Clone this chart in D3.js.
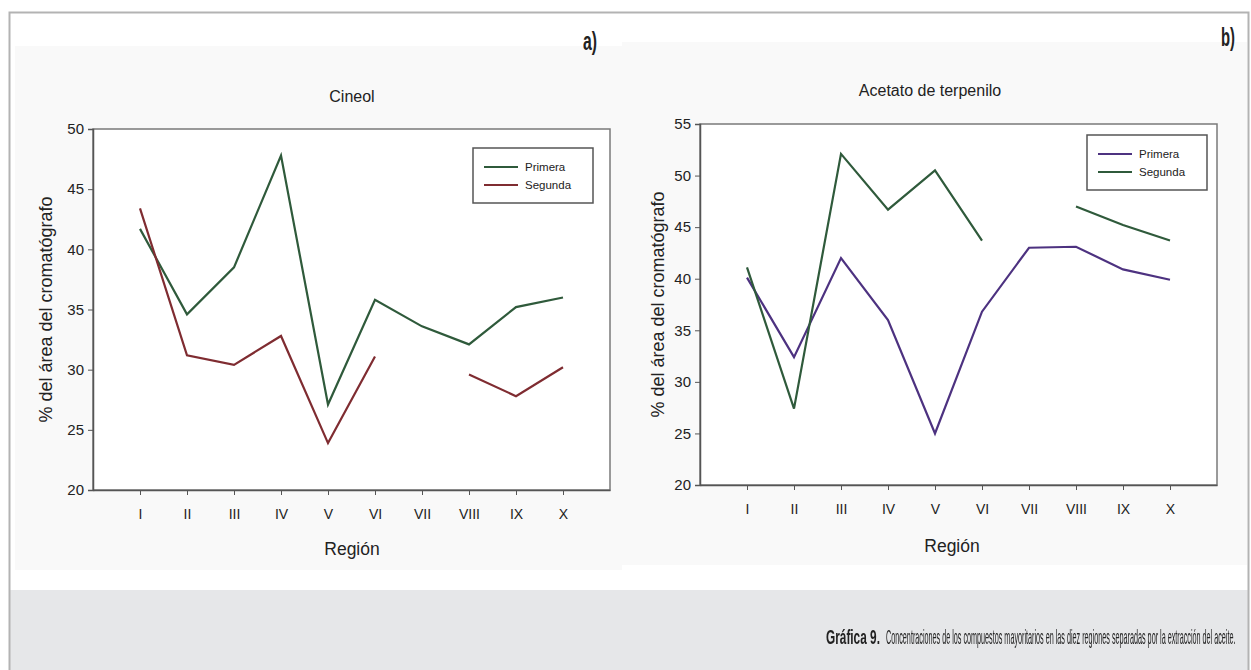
<!DOCTYPE html>
<html>
<head>
<meta charset="utf-8">
<script src="https://cdn.jsdelivr.net/npm/d3@7"></script>
<style>
  html, body { margin: 0; padding: 0; background: #ffffff; }
  svg { display: block; }
  text { font-family: "Liberation Sans", Arial, sans-serif; fill: #222; }
  .caption { -webkit-font-smoothing: antialiased; will-change: transform; }
</style>
</head>
<body>
<svg id="fig" width="1251" height="670"></svg>
<script>
// Regions along the x axis
const regions = ["I", "II", "III", "IV", "V", "VI", "VII", "VIII", "IX", "X"];

// Cineol, % of chromatograph area
const cineolPrimera = [41.7, 34.6, 38.5, 47.8, 27.1, 35.8, 33.6, 32.1, 35.2, 36.0];
const cineolSegunda = [43.4, 31.2, 30.4, 32.8, 23.9, 31.1, null, 29.6, 27.8, 30.2];

// Terpinyl acetate, % of chromatograph area
const acetatoPrimera = [40.1, 32.4, 42.0, 36.0, 25.0, 36.8, 43.0, 43.1, 40.9, 39.9];
const acetatoSegunda = [41.1, 27.4, 52.1, 46.7, 50.5, 43.7, null, 47.0, 45.2, 43.7];

// Axis ticks
const cineolTicks = [20, 25, 30, 35, 40, 45, 50];
const acetatoTicks = [20, 25, 30, 35, 40, 45, 50, 55];

const GREEN = "#2f5a3b", RED = "#7f2c31", PURPLE = "#4d3280";

const svg = d3.select("#fig");

// Outer frame and caption band
svg.append("rect").attr("x", 9).attr("y", 590).attr("width", 1240).attr("height", 90).attr("fill", "#e6e7e9");
svg.append("path").attr("d", "M9.5,690 V12.5 H1248.5 V690").attr("fill", "none").attr("stroke", "#b3b3b3").attr("stroke-width", 2);

// Light panel backgrounds behind each chart
svg.append("rect").attr("x", 15).attr("y", 46).attr("width", 607).attr("height", 524).attr("fill", "#f9f9f9");
svg.append("rect").attr("x", 622).attr("y", 42).attr("width", 625).attr("height", 523).attr("fill", "#f9f9f9");

// Condensed text: squeeze a text element horizontally to a given width, anchored at its left end
function squeeze(sel, xLeft, yBase, width) {
  const w = sel.node().getComputedTextLength();
  sel.attr("x", 0).attr("y", 0).attr("text-anchor", "start")
    .attr("transform", `translate(${xLeft},${yBase}) scale(${width / w},1)`);
}

// Panel letters
const la = svg.append("text").attr("font-size", 26).attr("font-weight", "bold").attr("fill", "#111").text("a)");
squeeze(la, 583, 50, 14);
const lb = svg.append("text").attr("font-size", 26).attr("font-weight", "bold").attr("fill", "#111").text("b)");
squeeze(lb, 1221, 46, 14);

function drawChart(opt) {
  const g = svg.append("g");
  const x = d3.scalePoint().domain(regions).range([opt.left, opt.right]).padding(1);
  const y = d3.scaleLinear().domain(opt.domain).range([opt.bottom, opt.top]);

  // plot frame
  g.append("rect").attr("x", opt.left).attr("y", opt.top)
    .attr("width", opt.right - opt.left).attr("height", opt.bottom - opt.top)
    .attr("fill", "#ffffff").attr("stroke", "#7a7a7a").attr("stroke-width", 1.5);

  const yAxis = g.append("g").attr("transform", `translate(${opt.left},0)`)
    .call(d3.axisLeft(y).tickValues(opt.ticks).tickSize(5).tickPadding(4).tickFormat(d3.format("d")));
  yAxis.select(".domain").attr("stroke", "#555").attr("stroke-width", 1.5);
  yAxis.selectAll(".tick line").attr("stroke", "#555");
  yAxis.selectAll(".tick text").attr("font-size", 15).attr("fill", "#222")
    .attr("font-family", "Liberation Sans, Arial, sans-serif");

  const xAxis = g.append("g").attr("transform", `translate(0,${opt.bottom})`)
    .call(d3.axisBottom(x).tickSize(5).tickPadding(14).tickSizeOuter(0));
  xAxis.select(".domain").attr("stroke", "#555").attr("stroke-width", 1.5);
  xAxis.selectAll(".tick line").attr("stroke", "#555");
  xAxis.selectAll(".tick text").attr("font-size", 14).attr("fill", "#222")
    .attr("font-family", "Liberation Sans, Arial, sans-serif");

  const line = d3.line()
    .defined(d => d.v !== null)
    .x(d => x(d.r))
    .y(d => y(d.v));

  opt.series.forEach(s => {
    g.append("path")
      .datum(regions.map((r, i) => ({ r, v: s.values[i] })))
      .attr("fill", "none").attr("stroke", s.color).attr("stroke-width", 2.2)
      .attr("stroke-linejoin", "miter").attr("d", line);
  });

  // legend
  const lg = g.append("g").attr("transform", `translate(${opt.legend[0]},${opt.legend[1]})`);
  lg.append("rect").attr("x", 0).attr("y", 0).attr("width", 120).attr("height", 55)
    .attr("fill", "#ffffff").attr("stroke", "#555").attr("stroke-width", 1.5);
  opt.series.forEach((s, i) => {
    const yy = 19 + i * 18;
    lg.append("line").attr("x1", 11).attr("x2", 45).attr("y1", yy).attr("y2", yy)
      .attr("stroke", s.color).attr("stroke-width", 2.2);
    lg.append("text").attr("x", 52).attr("y", yy + 4).attr("font-size", 11.5).text(s.name);
  });

  // titles
  g.append("text").attr("x", opt.titleX).attr("y", opt.titleY).attr("text-anchor", "middle")
    .attr("font-size", 16).text(opt.title);
  g.append("text").attr("transform", `translate(${opt.ylabX},${(opt.top + opt.bottom) / 2}) rotate(-90)`)
    .attr("text-anchor", "middle").attr("font-size", 18).text("% del área del cromatógrafo");
  g.append("text").attr("x", opt.xlabX).attr("y", opt.xlabY).attr("text-anchor", "middle")
    .attr("font-size", 17.5).text("Región");
}

drawChart({
  left: 93, right: 610, top: 129, bottom: 490,
  domain: [20, 50], ticks: cineolTicks,
  title: "Cineol", titleX: 352, titleY: 102,
  ylabX: 52, xlabX: 352, xlabY: 555,
  legend: [473, 148],
  series: [
    { name: "Primera", values: cineolPrimera, color: GREEN },
    { name: "Segunda", values: cineolSegunda, color: RED }
  ]
});

drawChart({
  left: 700, right: 1217, top: 124, bottom: 485,
  domain: [20, 55], ticks: acetatoTicks,
  title: "Acetato de terpenilo", titleX: 930, titleY: 96,
  ylabX: 664, xlabX: 952, xlabY: 552,
  legend: [1087, 135],
  series: [
    { name: "Primera", values: acetatoPrimera, color: PURPLE },
    { name: "Segunda", values: acetatoSegunda, color: GREEN }
  ]
});

// Caption, set in a condensed face: bold label, then the description
const capG = svg.append("g").attr("class", "caption").attr("opacity", 0.999);
const capLabel = capG.append("text").attr("font-size", 20).attr("font-weight", "bold").attr("fill", "#3a3a3a")
  .text("Gráfica 9.");
squeeze(capLabel, 826, 644, 54);
const capBody = capG.append("text").attr("font-size", 20).attr("fill", "#4a4a4a")
  .text("Concentraciones de los compuestos mayoritarios en las diez regiones separadas por la extracción del aceite.");
squeeze(capBody, 886, 644, 350);
</script>
</body>
</html>
